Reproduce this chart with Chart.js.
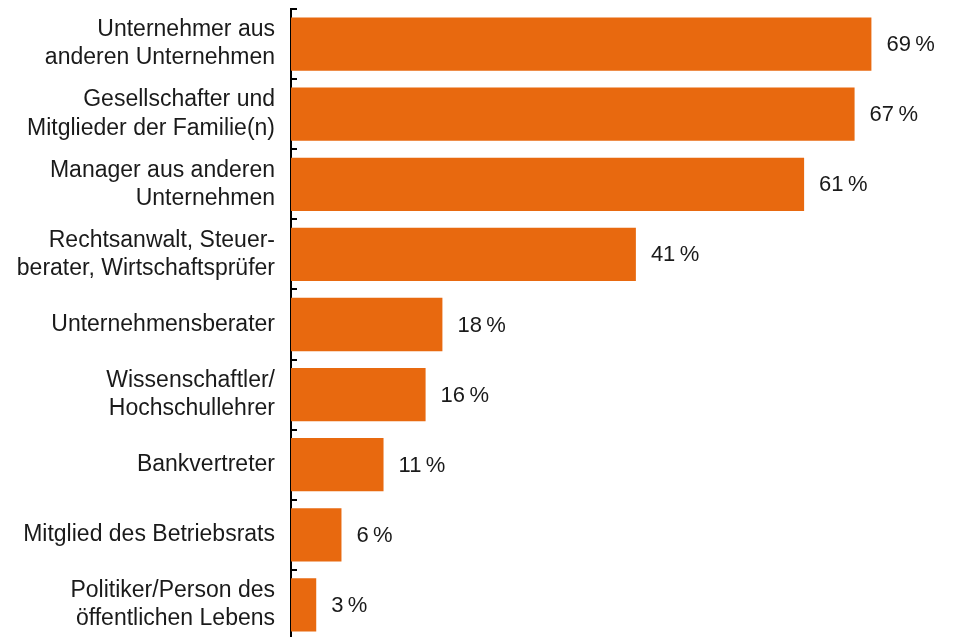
<!DOCTYPE html>
<html>
<head>
<meta charset="utf-8">
<script src="https://cdn.jsdelivr.net/npm/chart.js@4/dist/chart.umd.min.js"></script>
<style>
  html, body { margin: 0; padding: 0; background: #fff; overflow: hidden; }
  #wrap { width: 953px; height: 640px; }
</style>
</head>
<body>
<div id="wrap"><canvas id="chart" width="953" height="640"></canvas></div>
<script>
// categories, top to bottom
const categories = [
  ['Unternehmer aus', 'anderen Unternehmen'],
  ['Gesellschafter und', 'Mitglieder der Familie(n)'],
  ['Manager aus anderen', 'Unternehmen'],
  ['Rechtsanwalt, Steuer-', 'berater, Wirtschaftsprüfer'],
  'Unternehmensberater',
  ['Wissenschaftler/', 'Hochschullehrer'],
  'Bankvertreter',
  'Mitglied des Betriebsrats',
  ['Politiker/Person des', 'öffentlichen Lebens']
];
const shares = [69, 67, 61, 41, 18, 16, 11, 6, 3];

const barColor = '#E8690F';
const textColor = '#1a1a1a';
const fontFamily = '"Liberation Sans", Arial, sans-serif';
const fontSize = 23;

// value labels right of each bar
const valueLabels = {
  id: 'valueLabels',
  afterDatasetsDraw(chart) {
    const ctx = chart.ctx;
    const meta = chart.getDatasetMeta(0);
    ctx.save();
    ctx.font = (fontSize - 1) + 'px ' + fontFamily;
    ctx.fillStyle = textColor;
    ctx.textBaseline = 'middle';
    ctx.textAlign = 'left';
    meta.data.forEach((bar, i) => {
      ctx.fillText(shares[i] + '\u202F%', bar.x + 15, bar.y + 1);
    });
    ctx.restore();
  }
};

// short tick marks pointing into the plot at category boundaries
const innerTicks = {
  id: 'innerTicks',
  afterDraw(chart) {
    const y = chart.scales.y;
    const ctx = chart.ctx;
    const left = chart.chartArea.left;
    ctx.save();
    ctx.strokeStyle = '#000';
    ctx.lineWidth = 2;
    for (let i = 0; i <= categories.length; i++) {
      const py = Math.round(y.getPixelForValue(i - 0.5));
      ctx.beginPath();
      ctx.moveTo(left - 1, py);
      ctx.lineTo(left + 6, py);
      ctx.stroke();
    }
    ctx.restore();
  }
};

new Chart(document.getElementById('chart'), {
  type: 'bar',
  data: {
    labels: categories,
    datasets: [{
      data: shares,
      backgroundColor: barColor,
      borderWidth: 0,
      barPercentage: 0.76,
      categoryPercentage: 1
    }]
  },
  options: {
    indexAxis: 'y',
    responsive: false,
    animation: false,
    layout: { padding: { top: 9, right: 0, bottom: 0, left: 0 } },
    plugins: { legend: { display: false }, tooltip: { enabled: false } },
    scales: {
      x: {
        display: false,
        min: 0,
        max: 78.7
      },
      y: {
        offset: true,
        afterFit(scale) {
          scale.width = 291;
          scale.paddingTop = 0;
          scale.paddingBottom = 0;
        },
        border: { display: true, color: '#000', width: 2 },
        grid: { display: false, drawTicks: false },
        ticks: {
          padding: 16,
          color: textColor,
          font: { family: fontFamily, size: fontSize, lineHeight: 1.22 }
        }
      }
    }
  },
  plugins: [valueLabels, innerTicks]
});
</script>
</body>
</html>
